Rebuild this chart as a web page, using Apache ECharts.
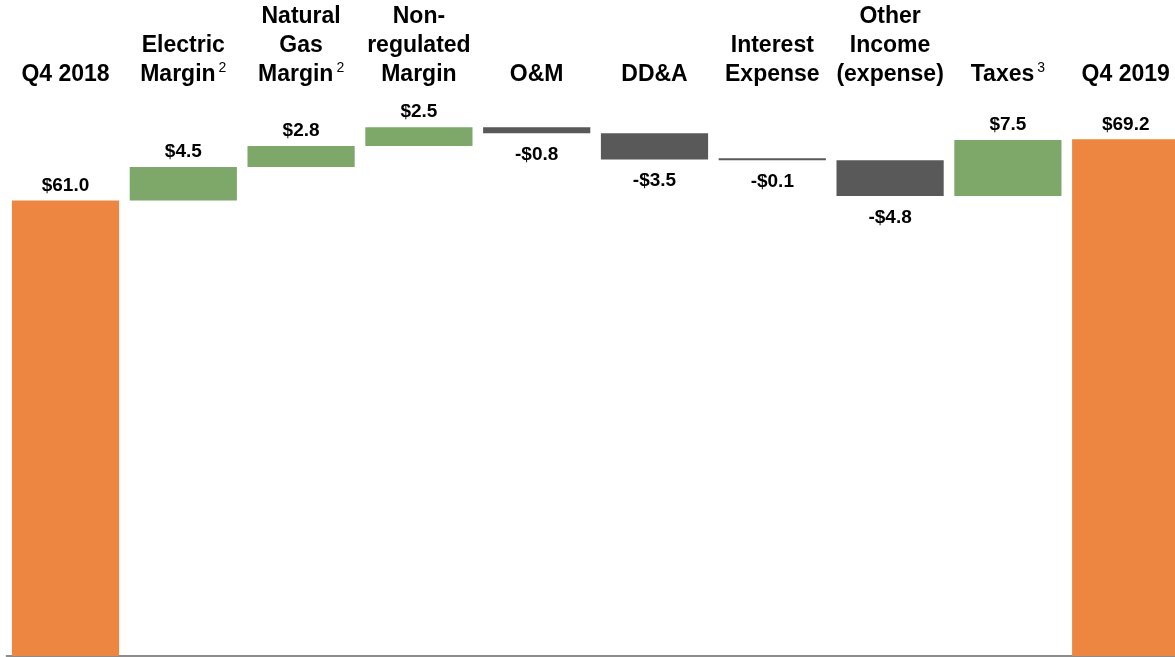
<!DOCTYPE html>
<html>
<head>
<meta charset="utf-8">
<script src="https://cdn.jsdelivr.net/npm/echarts@6/dist/echarts.min.js"></script>
<style>html,body{margin:0;padding:0;background:#fff}#c{width:1175px;height:657px}</style>
</head>
<body>
<div id="c"></div>
<script>
const categories = ["Q4 2018", "Electric\nMargin{s|2}", "Natural\nGas\nMargin{s|2}", "Non-\nregulated\nMargin", "O&M", "DD&A", "Interest\nExpense", "Other\nIncome\n(expense)", "Taxes{s|3}", "Q4 2019"];
const deltas = [61.0, 4.5, 2.8, 2.5, -0.8, -3.5, -0.1, -4.8, 7.5, 69.2];
const kinds = ["total", "delta", "delta", "delta", "delta", "delta", "delta", "delta", "delta", "total"];
const valueLabels = ["$61.0", "$4.5", "$2.8", "$2.5", "-$0.8", "-$3.5", "-$0.1", "-$4.8", "$7.5", "$69.2"];

const COLORS = { total: '#ED8641', up: '#7EA869', down: '#595959' };
const FONT = 'Liberation Sans, Arial, sans-serif';
const baseData = [], barData = [];
let run = 0;
deltas.forEach((d, i) => {
  if (kinds[i] === 'total') {
    baseData.push(0);
    barData.push({ value: d, itemStyle: { color: COLORS.total }, label: { position: 'top', distance: 5 } });
    run = d;
  } else if (d >= 0) {
    baseData.push(run);
    barData.push({ value: d, itemStyle: { color: COLORS.up }, label: { position: 'top', distance: 6 } });
    run += d;
  } else {
    run += d;
    baseData.push(run);
    barData.push({ value: -d, itemStyle: { color: COLORS.down }, label: { position: 'bottom', distance: 12 } });
  }
});

const chart = echarts.init(document.getElementById('c'));
chart.setOption({
  animation: false,
  grid: { left: 6.6, right: -9.6, top: 96, bottom: 1, containLabel: false, outerBoundsMode: 'none' },
  xAxis: [
    { type: 'category', data: categories, position: 'bottom',
      axisLine: { show: true, lineStyle: { color: '#8C8C8C', width: 2 } },
      axisTick: { show: false }, axisLabel: { show: false } },
    { type: 'category', data: categories, position: 'top',
      axisLine: { show: false }, axisTick: { show: false },
      axisLabel: { interval: 0, margin: 7, color: '#000', fontFamily: FONT,
        fontWeight: 'bold', fontSize: 23, lineHeight: 29,
        rich: { s: { fontSize: 14, fontWeight: 'normal', color: '#000', padding: [0, 0, 12, 3], fontFamily: FONT } } } }
  ],
  yAxis: { type: 'value', min: 0, max: 75, show: false, splitLine: { show: false } },
  series: [
    { type: 'bar', stack: 'w', data: baseData, itemStyle: { color: 'transparent' }, barWidth: '91%', silent: true },
    { type: 'bar', stack: 'w', data: barData, barWidth: '91%', barMinHeight: 2,
      label: { show: true, color: '#000', fontFamily: FONT, fontWeight: 'bold', fontSize: 19,
        formatter: p => valueLabels[p.dataIndex] } }
  ]
});
</script>
</body>
</html>
